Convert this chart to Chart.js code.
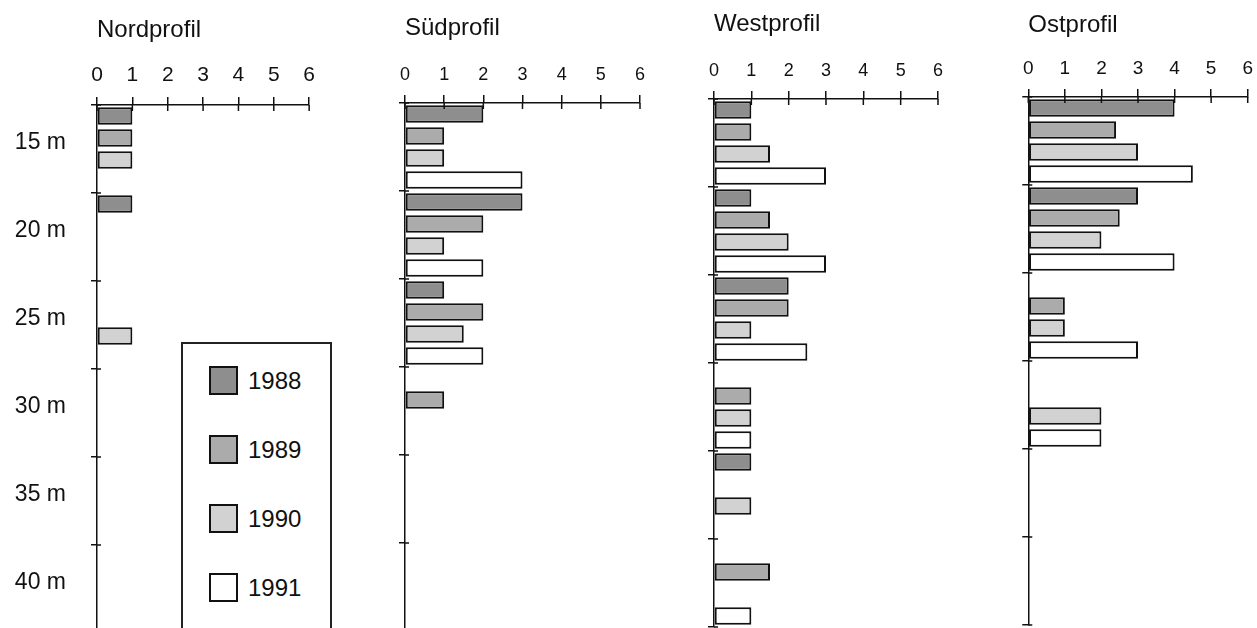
<!DOCTYPE html>
<html lang="de">
<head>
<meta charset="utf-8">
<title>Profile 1988–1991</title>
<script src="https://cdn.jsdelivr.net/npm/chart.js@4.4.1/dist/chart.umd.min.js"></script>
<style>
    html, body { margin: 0; padding: 0; background: #fff; }
    body { position: relative; width: 1257px; height: 628px; overflow: hidden; font-family: "Liberation Sans", Arial, sans-serif; color: #111; }
    canvas { position: absolute; top: 0; }
    #legend { position: absolute; left: 181px; top: 342px; width: 147px; height: 310px; border: 2px solid #222; background: #fff; z-index: 2; }
    #legend .item { display: flex; align-items: center; height: 29px; margin-bottom: 40px; font-size: 24px; }
    #legend .item:first-child { margin-top: 22px; }
    #legend .swatch { width: 29px; height: 29px; box-sizing: border-box; border: 2px solid #111; margin-left: 26px; margin-right: 10px; }
</style>
</head>
<body>
<div id="legend"></div>
<script>
// Tiefenstufen und Jahre
const depths = ['15 m', '20 m', '25 m', '30 m', '35 m', '40 m'];
const years = ['1988', '1989', '1990', '1991'];
const xTickValues = [0, 1, 2, 3, 4, 5, 6];

// Werte je Profil und Jahr, null = kein Balken
const nord1988 = [1, 1, null, null, null, null];
const nord1989 = [1, null, null, null, null, null];
const nord1990 = [1, null, 1, null, null, null];
const nord1991 = [null, null, null, null, null, null];

const sued1988 = [2, 3, 1, null, null, null];
const sued1989 = [1, 2, 2, 1, null, null];
const sued1990 = [1, 1, 1.5, null, null, null];
const sued1991 = [3, 2, 2, null, null, null];

const west1988 = [1, 1, 2, null, 1, null];
const west1989 = [1, 1.5, 2, 1, null, 1.5];
const west1990 = [1.5, 2, 1, 1, 1, null];
const west1991 = [3, 3, 2.5, 1, null, 1];

const ost1988 = [4, 3, null, null, null, null];
const ost1989 = [2.4, 2.5, 1, null, null, null];
const ost1990 = [3, 2, 1, 2, null, null];
const ost1991 = [4.5, 4, 3, 2, null, null];

// Darstellung
const yearColors = ['#8e8e8e', '#ababab', '#d2d2d2', '#ffffff'];
const FONT = '"Liberation Sans", Arial, sans-serif';
const INK = '#111';
const GROUP_H = 88;
const CANVAS_H = 640;
const TITLE_SIZE = 24;

const panels = [
    { title: 'Nordprofil', series: [nord1988, nord1989, nord1990, nord1991], x0: 97, x6: 310, top: 105, titleMid: 30, tickSize: 21, depthLabels: true },
    { title: 'Südprofil', series: [sued1988, sued1989, sued1990, sued1991], x0: 403, x6: 640, top: 103, titleMid: 28, tickSize: 18, depthLabels: false },
    { title: 'Westprofil', series: [west1988, west1989, west1990, west1991], x0: 712, x6: 938, top: 99, titleMid: 24, tickSize: 18, depthLabels: false },
    { title: 'Ostprofil', series: [ost1988, ost1989, ost1990, ost1991], x0: 1026, x6: 1248, top: 97, titleMid: 25, tickSize: 19, depthLabels: false }
];

// kurze Striche, die die Achsen kreuzen (wie in der Vorlage)
const crossTicks = {
    id: 'crossTicks',
    afterDraw(chart) {
        const { ctx } = chart;
        const x = chart.scales.x;
        const y = chart.scales.y;
        ctx.save();
        ctx.strokeStyle = INK;
        ctx.lineWidth = 1.5;
        ctx.beginPath();
        x.ticks.forEach((t, i) => {
            const px = x.getPixelForTick(i);
            ctx.moveTo(px, x.bottom);
            ctx.lineTo(px, x.bottom + 6);
        });
        for (let i = 0; i <= depths.length; i++) {
            const py = y.getPixelForValue(i - 0.5);
            ctx.moveTo(y.right, py);
            ctx.lineTo(y.right + 4, py);
        }
        ctx.stroke();
        ctx.restore();
    }
};

panels.forEach(p => {
    const yWidth = p.depthLabels ? p.x0 : 12;
    const left = p.x0 - yWidth;
    const width = p.x6 + 14 - left;
    const titleLine = TITLE_SIZE * 1.2;
    const titlePadTop = p.titleMid - titleLine / 2;
    const titleBottom = titlePadTop + titleLine + 2;
    const bottom = p.top + GROUP_H * depths.length;

    const canvas = document.createElement('canvas');
    canvas.width = width;
    canvas.height = CANVAS_H;
    canvas.style.left = left + 'px';
    document.body.appendChild(canvas);

    new Chart(canvas.getContext('2d'), {
        type: 'bar',
        data: {
            labels: depths,
            datasets: years.map((yr, i) => ({
                label: yr,
                data: p.series[i],
                backgroundColor: yearColors[i],
                borderColor: INK,
                borderWidth: 2,
                borderSkipped: false,
                barPercentage: 0.8,
                categoryPercentage: 1
            }))
        },
        options: {
            indexAxis: 'y',
            responsive: false,
            animation: false,
            layout: { padding: { top: 0, left: 0, right: 14, bottom: CANVAS_H - bottom } },
            plugins: {
                legend: { display: false },
                tooltip: { enabled: false },
                title: {
                    display: true,
                    text: p.title,
                    align: 'start',
                    fullSize: false,
                    color: INK,
                    font: { family: FONT, size: TITLE_SIZE, weight: 'normal' },
                    padding: { top: titlePadTop, bottom: 2 }
                }
            },
            scales: {
                x: {
                    position: 'top',
                    min: 0,
                    max: 6,
                    afterBuildTicks: s => { s.ticks = xTickValues.map(v => ({ value: v })); },
                    afterFit: s => { s.height = p.top - titleBottom; },
                    ticks: { color: INK, padding: 9, maxRotation: 0, font: { family: FONT, size: p.tickSize } },
                    grid: { drawOnChartArea: false, tickLength: 8, color: INK, lineWidth: 1.5 },
                    border: { color: INK, width: 1.5 }
                },
                y: {
                    afterFit: s => {
                        s.width = yWidth;
                        // keine Zusatzabstände für die Tiefenbeschriftung
                        s.paddingTop = 0;
                        s.paddingBottom = 0;
                    },
                    ticks: { display: p.depthLabels, color: INK, padding: 25, labelOffset: -6, font: { family: FONT, size: 23 } },
                    grid: { drawOnChartArea: false, tickLength: 6, color: INK, lineWidth: 1.5 },
                    border: { color: INK, width: 1.5 }
                }
            }
        },
        plugins: [crossTicks]
    });
});

// Legende aus denselben Jahren und Farben
const legendBox = document.getElementById('legend');
years.forEach((yr, i) => {
    const item = document.createElement('div');
    item.className = 'item';
    const swatch = document.createElement('span');
    swatch.className = 'swatch';
    swatch.style.background = yearColors[i];
    item.appendChild(swatch);
    item.appendChild(document.createTextNode(yr));
    legendBox.appendChild(item);
});
</script>
</body>
</html>
